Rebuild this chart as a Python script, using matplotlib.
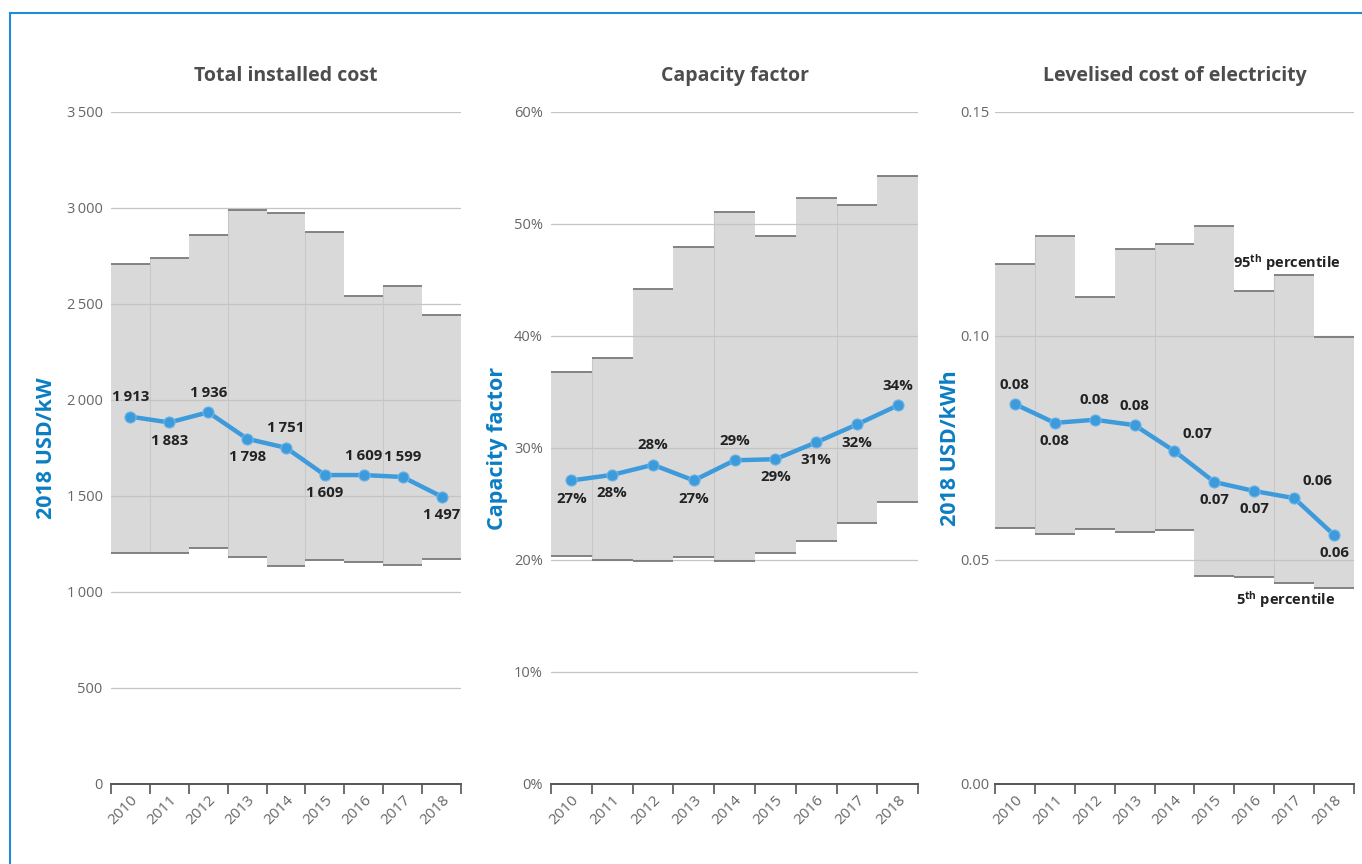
import numpy as np
import matplotlib.pyplot as plt
from matplotlib.lines import Line2D

plt.rcParams['font.family'] = ['Open Sans', 'DejaVu Sans']
plt.rcParams['mathtext.fontset'] = 'custom'
plt.rcParams['mathtext.bf'] = 'Open Sans:bold'
plt.rcParams['mathtext.rm'] = 'Open Sans'

years = ['2010', '2011', '2012', '2013', '2014', '2015', '2016', '2017', '2018']

# Total installed cost (2018 USD/kW)
cost_avg = [1913, 1883, 1936, 1798, 1751, 1609, 1609, 1599, 1497]
cost_p95 = [2708, 2739, 2859, 2989, 2974, 2875, 2541, 2594, 2443]
cost_p05 = [1203, 1203, 1229, 1182, 1135, 1166, 1156, 1140, 1172]
cost_lbl = ['1\u2009913', '1\u2009883', '1\u2009936', '1\u2009798', '1\u2009751',
            '1\u2009609', '1\u2009609', '1\u2009599', '1\u2009497']
cost_pos = ['up', 'down', 'up', 'down', 'up', 'down', 'up', 'up', 'down']

# Capacity factor (%)
cf_avg = [27.1, 27.6, 28.5, 27.1, 28.9, 29.0, 30.5, 32.1, 33.8]
cf_p95 = [36.8, 38.0, 44.2, 47.9, 51.1, 48.9, 52.3, 51.7, 54.3]
cf_p05 = [20.4, 20.0, 19.9, 20.3, 19.9, 20.6, 21.7, 23.3, 25.2]
cf_lbl = ['27%', '28%', '28%', '27%', '29%', '29%', '31%', '32%', '34%']
cf_pos = ['down', 'down', 'up', 'down', 'up', 'down', 'down', 'down', 'up']

# LCOE (2018 USD/kWh)
lcoe_avg = [0.0848, 0.0806, 0.0813, 0.0801, 0.0743, 0.0674, 0.0654, 0.0638, 0.0556]
lcoe_p95 = [0.1161, 0.1223, 0.1087, 0.1194, 0.1205, 0.1246, 0.1100, 0.1136, 0.0998]
lcoe_p05 = [0.0571, 0.0558, 0.0569, 0.0562, 0.0567, 0.0464, 0.0462, 0.0449, 0.0438]
lcoe_lbl = ['0.08', '0.08', '0.08', '0.08', '0.07', '0.07', '0.07', '0.06', '0.06']
lcoe_pos = ['up', 'down', 'up', 'up', 'upright', 'down', 'down', 'upright', 'down']

cost_ticks = [0, 500, 1000, 1500, 2000, 2500, 3000, 3500]
cost_ticklbl = ['0', '500', '1\u2009000', '1\u2009500', '2\u2009000', '2\u2009500', '3\u2009000', '3\u2009500']
cf_ticks = [0, 10, 20, 30, 40, 50, 60]
cf_ticklbl = ['0%', '10%', '20%', '30%', '40%', '50%', '60%']
lcoe_ticks = [0.0, 0.05, 0.10, 0.15]
lcoe_ticklbl = ['0.00', '0.05', '0.10', '0.15']

LINE = '#3d9bdc'
FILL = '#d9d9d9'
CAP = '#7a7a7a'
GRID = '#c4c4c4'
BLUE = '#0b7dc3'
TXT = '#222222'

fig = plt.figure(figsize=(13.62, 8.64), dpi=100)


def panel(rect, title, ylabel, ylab_x, avg, p95, p05, lbls, pos, ticks, ticklbl, ymax, seps, off):
    ax = fig.add_axes(rect)
    x = np.arange(len(years))
    ax.bar(x, np.array(p95) - np.array(p05), bottom=p05, width=1.0,
           color=FILL, linewidth=0, zorder=1)
    for i in x:
        ax.plot([i - 0.5, i + 0.5], [p95[i], p95[i]], color=CAP, lw=1.3, zorder=3,
                solid_capstyle='butt')
        ax.plot([i - 0.5, i + 0.5], [p05[i], p05[i]], color=CAP, lw=1.3, zorder=3,
                solid_capstyle='butt')
    for i in seps:
        ax.plot([i - 0.5, i - 0.5], [p05[i], p95[i]], color='#c8c8c8', lw=0.8, zorder=2)
    for t in ticks[1:]:
        ax.axhline(t, color=GRID, lw=0.9, zorder=2)
    ax.plot(x, avg, color=LINE, lw=3.2, marker='o', markersize=8,
            markeredgecolor='#6fb6e8', markeredgewidth=0.8, zorder=5)
    for i in x:
        if pos[i] == 'up':
            ax.annotate(lbls[i], (i, avg[i]), xytext=(0, 9), textcoords='offset points',
                        ha='center', va='bottom', fontsize=10.8, fontweight='bold', color=TXT, zorder=6)
        elif pos[i] == 'upright':
            ax.annotate(lbls[i], (i, avg[i]), xytext=(6, 7), textcoords='offset points',
                        ha='left', va='bottom', fontsize=10.8, fontweight='bold', color=TXT, zorder=6)
        else:
            ax.annotate(lbls[i], (i, avg[i]), xytext=(0, -8), textcoords='offset points',
                        ha='center', va='top', fontsize=10.8, fontweight='bold', color=TXT, zorder=6)
    ax.set_xlim(-0.5, len(years) - 0.5)
    ax.set_ylim(0, ymax)
    ax.set_yticks(ticks)
    ax.set_yticklabels(ticklbl)
    ax.tick_params(axis='y', length=0, pad=off, labelsize=10.5, labelcolor='#666666')
    ax.set_xticks(np.arange(len(years) + 1) - 0.5)
    ax.set_xticklabels([])
    ax.set_xticks(x, minor=True)
    ax.set_xticklabels(years, minor=True, rotation=45, ha='right', rotation_mode='anchor',
                       fontsize=11, color='#666666')
    ax.tick_params(axis='x', which='major', length=7, width=1.2, color='#555555', direction='out')
    ax.tick_params(axis='x', which='minor', length=0, pad=6)
    for s in ['left', 'right', 'top']:
        ax.spines[s].set_visible(False)
    ax.spines['bottom'].set_color('#555555')
    ax.spines['bottom'].set_linewidth(1.4)
    ax.spines['bottom'].set_zorder(4)
    ax.set_title(title, fontsize=14, fontweight='bold', color='#4d4d4d', pad=22)
    ax.set_ylabel(ylabel, fontsize=15.5, fontweight='bold', color=BLUE)
    ax.yaxis.set_label_coords(ylab_x, 0.5)
    ax.set_facecolor('none')
    return ax


panel([0.0815, 0.0926, 0.257, 0.7778], 'Total installed cost', '2018 USD/kW', -0.154,
      cost_avg, cost_p95, cost_p05, cost_lbl, cost_pos, cost_ticks, cost_ticklbl, 3500,
      [1, 3, 5, 7], 6)
panel([0.4046, 0.0926, 0.2695, 0.7778], 'Capacity factor', 'Capacity factor', -0.117,
      cf_avg, cf_p95, cf_p05, cf_lbl, cf_pos, cf_ticks, cf_ticklbl, 60,
      [1, 4, 7], 6)
ax3 = panel([0.7305, 0.0926, 0.2636, 0.7778], 'Levelised cost of electricity', '2018 USD/kWh', -0.095,
            lcoe_avg, lcoe_p95, lcoe_p05, lcoe_lbl, lcoe_pos, lcoe_ticks, lcoe_ticklbl, 0.15,
            [1, 4, 7], 4)

ax3.text(6.82, 0.1163, r'$\mathbf{95^{th}}$ percentile', ha='center', va='center',
         fontsize=10.5, fontweight='bold', color=TXT, zorder=6)
ax3.text(6.8, 0.0411, r'$\mathbf{5^{th}}$ percentile', ha='center', va='center',
         fontsize=10.5, fontweight='bold', color=TXT, zorder=6)

# blue frame
fig.add_artist(Line2D([10 / 1362, 1.0], [1 - 13 / 864, 1 - 13 / 864], color='#1f8dd6', lw=1.5))
fig.add_artist(Line2D([10 / 1362, 10 / 1362], [0, 1 - 13 / 864], color='#1f8dd6', lw=1.5))

fig.savefig('out.png', dpi=100)
